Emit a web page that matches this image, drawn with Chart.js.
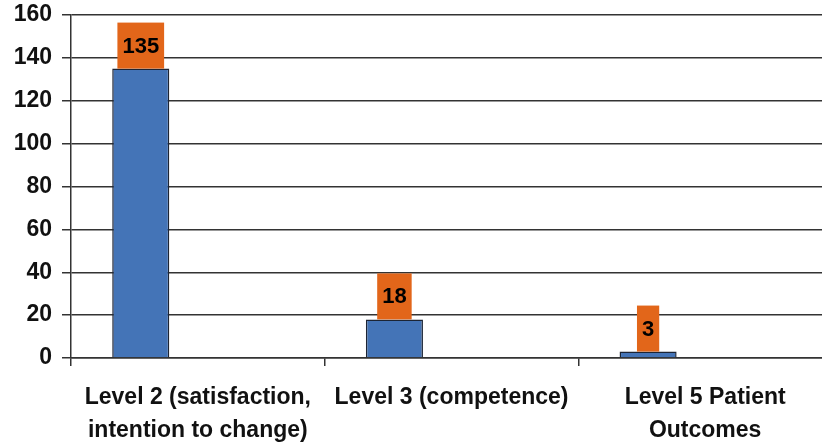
<!DOCTYPE html>
<html>
<head>
<meta charset="utf-8">
<script src="https://cdn.jsdelivr.net/npm/chart.js"></script>
<style>
html, body { margin: 0; padding: 0; background: #fff; overflow: hidden; }
</style>
</head>
<body>
<canvas id="canvas" width="832" height="443"></canvas>
<script>
var LEVELS = [ [ "Level 2 (satisfaction,", "intention to change)" ],
				"Level 3 (competence)",
				[ "Level 5 Patient", "Outcomes" ] ];
var COUNTS = [ 135, 18, 3 ];
var EMPTY = [ null, null, null ];
var Y_TICKS = [ 0, 20, 40, 60, 80, 100, 120, 140, 160 ];

var FONT = { family : '"Liberation Sans", Arial, sans-serif', size : 23, weight : 'bold', lineHeight : 1.4 };

// orange value boxes sitting on top of each bar
var boxLabels = {
	id : 'boxLabels',
	afterDatasetsDraw : function(chart) {
		var ctx = chart.ctx;
		var meta = chart.getDatasetMeta(0);
		ctx.save();
		ctx.font = 'bold 22px "Liberation Sans", Arial, sans-serif';
		ctx.textAlign = 'center';
		ctx.textBaseline = 'middle';
		meta.data.forEach(function(bar, i) {
			var txt = String(COUNTS[i]);
			var w = ctx.measureText(txt).width + 10;
			var h = 46;
			ctx.fillStyle = '#E2661A';
			ctx.fillRect(bar.x - w / 2, bar.y - h, w, h);
			ctx.fillStyle = '#000';
			ctx.fillText(txt, bar.x, bar.y - h / 2 + 1);
		});
		ctx.restore();
	}
};

var barChartData = {
	labels : LEVELS,
	datasets : [ {
		label : 'Count',
		data : COUNTS,
		backgroundColor : '#4474B7',
		borderColor : '#1c2434',
		borderWidth : 1.5
	}, {
		label : '',
		data : EMPTY
	}, {
		label : '',
		data : EMPTY
	} ]
};

window.onload = function() {
	var ctx = document.getElementById("canvas").getContext("2d");
	window.myBar = new Chart(ctx, {
		type : 'bar',
		data : barChartData,
		plugins : [ boxLabels ],
		options : {
			responsive : false,
			animation : false,
			categoryPercentage : 0.675,
			barPercentage : 1,
			layout : { padding : { top : 15, right : 0, bottom : 0, left : 0 } },
			plugins : {
				legend : { display : false },
				tooltip : { enabled : false }
			},
			scales : {
				x : {
					afterFit : function(scale) {
						scale.height = 85;
						scale.paddingLeft = 0;
						scale.paddingRight = 0;
					},
					grid : { drawOnChartArea : false, drawTicks : true, tickLength : 8, color : '#333', lineWidth : 1.5 },
					border : { display : true, color : '#333', width : 1.5 },
					ticks : { font : FONT, color : '#111', padding : 16, maxRotation : 0, autoSkip : false }
				},
				y : {
					min : Y_TICKS[0],
					max : Y_TICKS[Y_TICKS.length - 1],
					afterFit : function(scale) {
						scale.width = 71;
						scale.paddingTop = 0;
						scale.paddingBottom = 0;
					},
					afterBuildTicks : function(scale) {
						scale.ticks = Y_TICKS.map(function(v) { return { value : v }; });
					},
					grid : { color : '#333', lineWidth : 1.5, tickLength : 9 },
					border : { display : true, color : '#333', width : 1.5 },
					ticks : { font : FONT, color : '#111', padding : 10 }
				}
			}
		}
	});
};
</script>
</body>
</html>
